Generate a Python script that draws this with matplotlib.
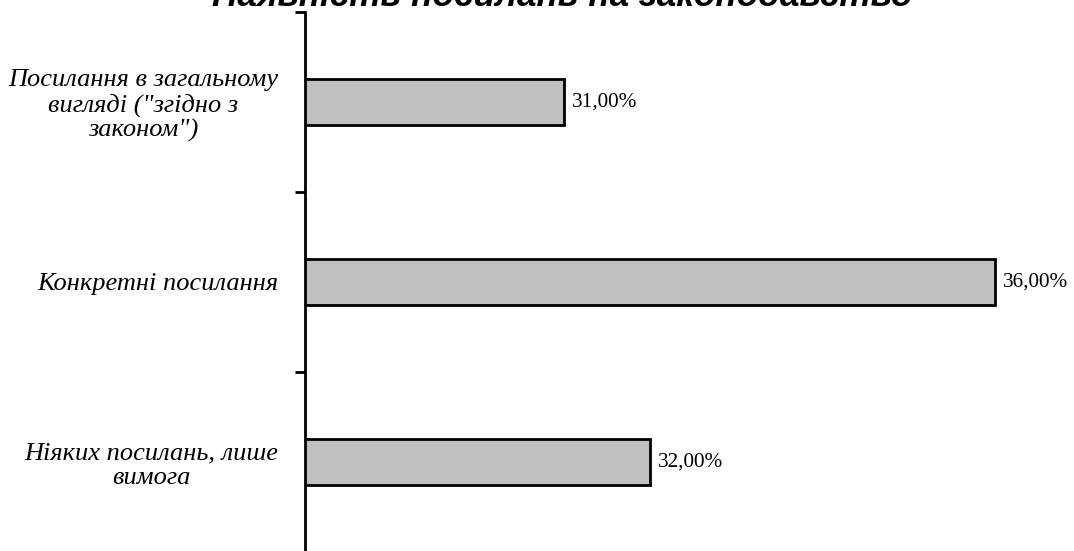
import matplotlib
matplotlib.use("Agg")
import matplotlib.pyplot as plt

categories = [
    "Посилання в загальному\nвигляді (\"згідно з\nзаконом\")",
    "Конкретні посилання",
    "Ніяких посилань, лише\nвимога",
]
values = [31.0, 36.0, 32.0]
value_labels = ["31,00%", "36,00%", "32,00%"]
title = "Наявність посилань на законодавство"

W, H = 1074, 551
fig = plt.figure(figsize=(W / 100, H / 100), dpi=100)
ax = fig.add_axes([305 / W, 1 - 552 / H, 776 / W, 540 / H])

y = list(range(len(categories)))
ax.barh(y, values, height=0.26, color="#C0C0C0", edgecolor="black", linewidth=2)
ax.set_ylim(2.5, -0.5)
ax.set_xlim(28, 37)

for yi, v, lab in zip(y, values, value_labels):
    ax.annotate(lab, (v, yi), xytext=(8, 0), textcoords="offset pixels",
                va="center", ha="left", fontsize=15.3, family="Liberation Serif")

ax.set_yticks([-0.5, 0.5, 1.5, 2.5])
ax.set_yticklabels([])
ax.set_yticks(y, minor=True)
ax.set_yticklabels(categories, minor=True, fontsize=19, family="Liberation Serif",
                   style="italic", multialignment="center", linespacing=1.13)
ax.tick_params(axis="y", which="major", direction="out", length=7, width=2)
ax.tick_params(axis="y", which="minor", length=0, pad=19)
ax.set_xticks([])
for s in ["top", "right", "bottom"]:
    ax.spines[s].set_visible(False)
ax.spines["left"].set_linewidth(2)

fig.text(562 / W, 1 - 6 / H, title, ha="center", va="baseline", fontsize=25.3,
         family="Liberation Sans", weight="bold", style="italic")

fig.savefig("out.png", dpi=100)
